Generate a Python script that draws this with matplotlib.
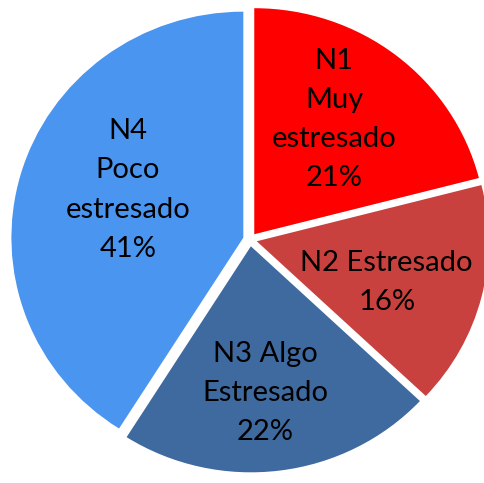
import matplotlib
matplotlib.use('Agg')
import matplotlib.pyplot as plt
import numpy as np

labels = ['N1\nMuy\nestresado', 'N2 Estresado', 'N3 Algo\nEstresado', 'N4\nPoco\nestresado']
values = [21, 16, 22, 41]
colors = ['#fe0000', '#c8413e', '#3e6a9f', '#4a95ef']
# label placement inside each wedge: radial fraction and angle shift (deg)
text_dist = [0.614, 0.589, 0.652, 0.540]
text_shift = [3.7, -3.5, -1.8, -6.8]

fig = plt.figure(figsize=(4.84, 4.83), dpi=100)
ax = fig.add_axes([0, 0, 1, 1])

wedges, _ = ax.pie(values, colors=colors, startangle=90, counterclock=False,
                   explode=[0.03] * len(values),
                   wedgeprops=dict(edgecolor='none'))

total = sum(values)
for w, lab, v, d, s in zip(wedges, labels, values, text_dist, text_shift):
    ang = np.deg2rad((w.theta1 + w.theta2) / 2 + s)
    cx, cy = w.center
    ax.text(cx + d * np.cos(ang), cy + d * np.sin(ang), f'{lab}\n{v / total * 100:.0f}%',
            ha='center', va='center', fontsize=21, family='Lato', linespacing=1.62)

# slightly wider than tall, as in the original
ax.set_xlim(-1.078, 1.009)
ax.set_ylim(-1.077, 1.060)
ax.set_aspect('auto')
ax.axis('off')

plt.savefig('out.png', dpi=100)
